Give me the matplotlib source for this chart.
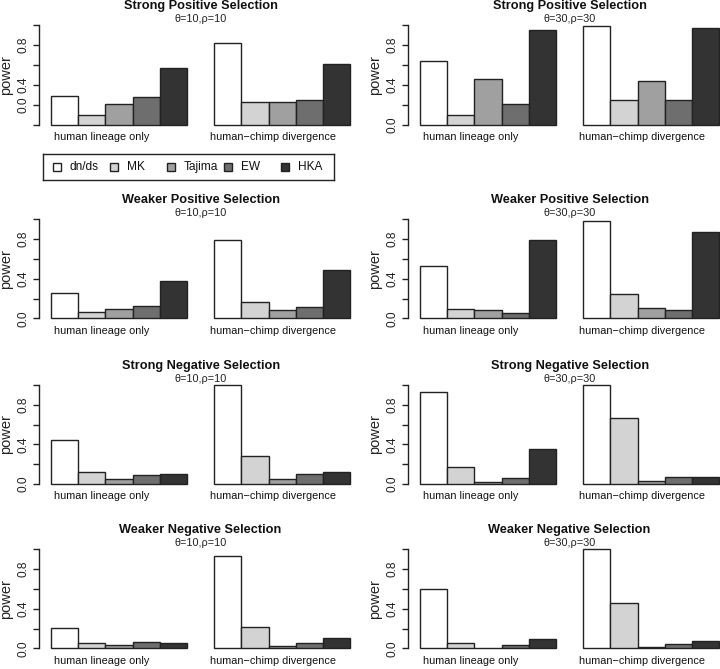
import matplotlib
matplotlib.use('Agg')
import matplotlib.pyplot as plt
from matplotlib.patches import Rectangle

plt.rcParams['font.family'] = ['Liberation Sans', 'DejaVu Sans']

methods = ['dn/ds', 'MK', 'Tajima', 'EW', 'HKA']
colors = ['#ffffff', '#d3d3d3', '#a0a0a0', '#6e6e6e', '#333333']
groups = ['human lineage only', 'human\u2212chimp divergence']

titles = ['Strong Positive Selection', 'Weaker Positive Selection',
          'Strong Negative Selection', 'Weaker Negative Selection']
params = ['\u03b8=10,\u03c1=10', '\u03b8=30,\u03c1=30']

# power per method, [human lineage only, human-chimp divergence]
strong_pos_10 = [[0.29, 0.10, 0.21, 0.28, 0.57], [0.82, 0.227, 0.23, 0.25, 0.61]]
strong_pos_30 = [[0.64, 0.10, 0.457, 0.207, 0.95], [0.99, 0.253, 0.443, 0.253, 0.967]]
weak_pos_10 = [[0.26, 0.068, 0.091, 0.125, 0.378], [0.79, 0.162, 0.084, 0.111, 0.49]]
weak_pos_30 = [[0.524, 0.091, 0.084, 0.05, 0.79], [0.983, 0.243, 0.101, 0.088, 0.87]]
strong_neg_10 = [[0.444, 0.118, 0.047, 0.091, 0.104], [1.0, 0.286, 0.047, 0.098, 0.118]]
strong_neg_30 = [[0.926, 0.168, 0.024, 0.057, 0.35], [1.0, 0.663, 0.034, 0.071, 0.074]]
weak_neg_10 = [[0.202, 0.05, 0.03, 0.061, 0.05], [0.933, 0.219, 0.024, 0.05, 0.101]]
weak_neg_30 = [[0.596, 0.05, 0.0, 0.034, 0.098], [1.0, 0.461, 0.01, 0.044, 0.071]]

panels = [[strong_pos_10, strong_pos_30],
          [weak_pos_10, weak_pos_30],
          [strong_neg_10, strong_neg_30],
          [weak_neg_10, weak_neg_30]]

W, H = 720, 669
fig = plt.figure(figsize=(W / 100, H / 100), dpi=100)

# pixel rows: (y of 0.0, y of 1.0)
rows_px = [(125, 25), (318.3, 219.3), (484, 385), (648.3, 549.3)]
cols_px = [39, 408]
unit = 27.2  # px per bar

for r, (y0, y1) in enumerate(rows_px):
    s = y0 - y1
    bot = y0 + 0.04 * s
    top = y1 - 0.04 * s
    for c, xl in enumerate(cols_px):
        xr = xl + 11.88 * unit
        ax = fig.add_axes([xl / W, 1 - bot / H, (xr - xl) / W, (bot - top) / H])
        data = panels[r][c]
        for g in range(2):
            for i in range(5):
                ax.bar(1 + 6 * g + i, data[g][i], width=1, align='edge',
                       color=colors[i], edgecolor='#222222', linewidth=1.0)
            ax.text([2.88, 9.18][g], -0.125, groups[g], ha='center', va='center',
                    fontsize=7.8, color='#111111')
        ax.set_xlim(0.56, 12.44)
        ax.set_ylim(-0.04, 1.04)
        for sp in ['top', 'right', 'bottom']:
            ax.spines[sp].set_visible(False)
        ax.spines['left'].set_bounds(0, 1)
        ax.spines['left'].set_linewidth(1.0)
        ax.spines['left'].set_color('#222222')
        ax.set_xticks([])
        ax.set_yticks([0, 0.2, 0.4, 0.6, 0.8, 1.0])
        if r == 0 and c == 0:
            ax.set_yticklabels(['', '0.0', '0.4', '', '0.8', ''])
        else:
            ax.set_yticklabels(['0.0', '', '0.4', '', '0.8', ''])
        for lab in ax.get_yticklabels():
            lab.set_rotation(90)
            lab.set_va('center')
        ax.tick_params(axis='y', length=4, width=1.0, pad=2.5, labelsize=8.6,
                       color='#222222', labelcolor='#222222')
        xc = (xl + xr) / 2
        fig.text(xc / W, 1 - (y1 - 19) / H, titles[r], ha='center', va='center',
                 fontsize=9.2, fontweight='bold', color='#111111')
        fig.text(xc / W, 1 - (y1 - 6) / H, params[c], ha='center', va='center',
                 fontsize=7.8, color='#222222')
        fig.text((xl + 1 - 34) / W, 1 - ((y0 + y1) / 2) / H, 'power', rotation=90,
                 ha='center', va='center', fontsize=10.5, color='#222222')

# legend box
lax = fig.add_axes([43 / W, 1 - 180 / H, 291 / W, 26 / H])
lax.set_xlim(43, 334)
lax.set_ylim(180, 154)
lax.set_xticks([])
lax.set_yticks([])
for sp in lax.spines.values():
    sp.set_linewidth(1.0)
    sp.set_color('#222222')
for i, m in enumerate(methods):
    cx = 57 + 57 * i
    lax.add_patch(Rectangle((cx - 4, 163), 8, 8, facecolor=colors[i],
                            edgecolor='#222222', linewidth=1.0))
    lax.text(cx + 13, 167, m, ha='left', va='center', fontsize=8.6, color='#111111')

fig.savefig('out.png', dpi=100)
